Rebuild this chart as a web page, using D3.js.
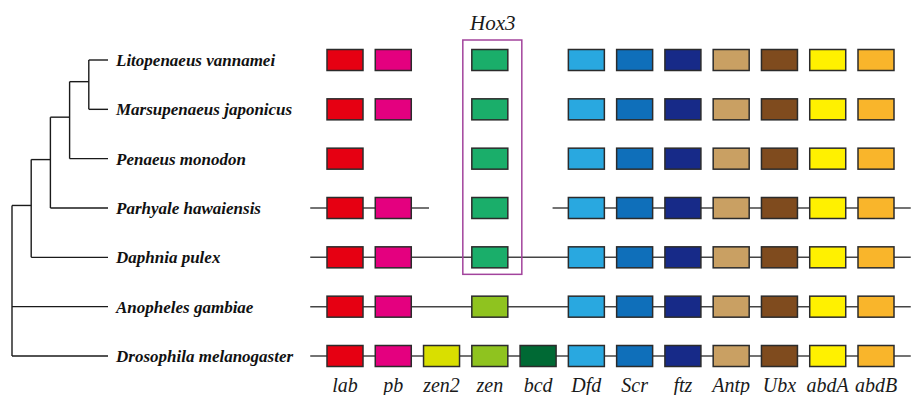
<!DOCTYPE html>
<html><head><meta charset="utf-8">
<script src="https://cdn.jsdelivr.net/npm/d3@7"></script>
<style>body{margin:0;background:#fff}svg{display:block}</style>
</head><body>
<script>
// ---------- data ----------
const genes = ["lab","pb","zen2","zen","bcd","Dfd","Scr","ftz","Antp","Ubx","abdA","abdB"];
const geneColors = ["#e60012","#e4007f","#d9df00","#8fc31f","#006934","#29a8e0","#0f6fba","#172a88","#c9a063","#7f4b1e","#fff100","#f9b52b"];
const hox3Color = "#1aae6a";
const species = ["Litopenaeus vannamei","Marsupenaeus japonicus","Penaeus monodon","Parhyale hawaiensis","Daphnia pulex","Anopheles gambiae","Drosophila melanogaster"];
// genes present per species ("Hox3" = zen ortholog in crustaceans)
const presence = [
  ["lab","pb","Hox3","Dfd","Scr","ftz","Antp","Ubx","abdA","abdB"],
  ["lab","pb","Hox3","Dfd","Scr","ftz","Antp","Ubx","abdA","abdB"],
  ["lab","Hox3","Dfd","Scr","ftz","Antp","Ubx","abdA","abdB"],
  ["lab","pb","Hox3","Dfd","Scr","ftz","Antp","Ubx","abdA","abdB"],
  ["lab","pb","Hox3","Dfd","Scr","ftz","Antp","Ubx","abdA","abdB"],
  ["lab","pb","zen","Dfd","Scr","ftz","Antp","Ubx","abdA","abdB"],
  ["lab","pb","zen2","zen","bcd","Dfd","Scr","ftz","Antp","Ubx","abdA","abdB"]
];
// chromosome segments per species, in gene-slot units [start, end]
const segments = [
  [], [], [],
  [[-0.72, 1.74], [4.3, 11.72]],
  [[-0.72, 11.72]],
  [[-0.72, 11.72]],
  [[-0.72, 11.72]]
];
const hox3Rows = [0, 4];   // rows spanned by the Hox3 frame
const hox3Slot = "zen";
// phylogeny
const tree = {children:[
  {children:[
    {children:[
      {children:[
        {children:[{name:species[0]},{name:species[1]}]},
        {name:species[2]}]},
      {name:species[3]}]},
    {name:species[4]}]},
  {name:species[5]},
  {name:species[6]}
]};

// ---------- layout ----------
const W = 912, H = 395;
const SERIF = "Liberation Serif";
const svg = d3.select("body").append("svg").attr("width", W).attr("height", H);

const x = d3.scaleLinear().domain([0, genes.length - 1]).range([345, 876]);
const y = d3.scalePoint().domain(species).range([60, 356]);
const bw = 36, bh = 21;
const colorOf = g => g === "Hox3" ? hox3Color : geneColors[genes.indexOf(g)];
const slotOf = g => g === "Hox3" ? genes.indexOf(hox3Slot) : genes.indexOf(g);

// chromosome lines
const segG = svg.append("g");
segments.forEach((segs, i) => {
  segG.selectAll(null).data(segs).enter().append("line")
    .attr("x1", s => x(s[0])).attr("x2", s => x(s[1]))
    .attr("y1", y(species[i])).attr("y2", y(species[i]))
    .attr("stroke", "#444").attr("stroke-width", 1.5);
});

// gene boxes
const boxG = svg.append("g");
presence.forEach((list, i) => {
  boxG.selectAll(null).data(list).enter().append("rect")
    .attr("x", g => x(slotOf(g)) - bw / 2)
    .attr("y", y(species[i]) - bh / 2)
    .attr("width", bw).attr("height", bh)
    .attr("fill", g => colorOf(g))
    .attr("stroke", "#2b2b2b").attr("stroke-width", 1.5);
});

// Hox3 frame
const hx = x(genes.indexOf(hox3Slot));
svg.append("rect")
  .attr("x", hx - 27).attr("y", y(species[hox3Rows[0]]) - 20)
  .attr("width", 59).attr("height", y(species[hox3Rows[1]]) - y(species[hox3Rows[0]]) + 37)
  .attr("fill", "none").attr("stroke", "#a2439c").attr("stroke-width", 1.5);
svg.append("text").attr("x", hx + 3).attr("y", 30)
  .attr("text-anchor", "middle")
  .attr("font-family", SERIF).attr("font-style", "italic").attr("font-size", 21)
  .attr("fill", "#1a1a1a")
  .text("Hox3");

// gene labels
svg.append("g").selectAll("text").data(genes).enter().append("text")
  .attr("x", (d, i) => x(i)).attr("y", 392)
  .attr("text-anchor", "middle")
  .attr("font-family", SERIF).attr("font-style", "italic").attr("font-size", 20)
  .attr("fill", "#1a1a1a")
  .text(d => d);

// tree
const root = d3.hierarchy(tree);
const tx = d3.scaleLinear().domain([0, 5]).range([12, 108]);
root.eachAfter(n => {
  if (!n.children) { n.yy = y(n.data.name); n.xx = tx(5); }
  else {
    n.xx = tx(n.depth);
    const ys = n.children.map(c => c.yy);
    n.yy = n.depth === 0 ? n.children[0].yy : (d3.min(ys) + d3.max(ys)) / 2 - 3;
  }
});
const treeG = svg.append("g").attr("stroke", "#1a1a1a").attr("stroke-width", 1.4).attr("fill", "none");
root.descendants().forEach(n => {
  if (n.children) {
    const ys = n.children.map(c => c.yy);
    treeG.append("line").attr("x1", n.xx).attr("x2", n.xx)
      .attr("y1", d3.min(ys)).attr("y2", d3.max(ys));
    n.children.forEach(c => {
      treeG.append("line").attr("x1", n.xx).attr("x2", c.xx)
        .attr("y1", c.yy).attr("y2", c.yy);
    });
  }
});
// species labels
svg.append("g").selectAll("text").data(species).enter().append("text")
  .attr("x", 116).attr("y", d => y(d) + 6)
  .attr("font-family", SERIF).attr("font-style", "italic").attr("font-weight", "bold").attr("font-size", 17)
  .attr("fill", "#111")
  .text(d => d);
</script>
</body></html>
